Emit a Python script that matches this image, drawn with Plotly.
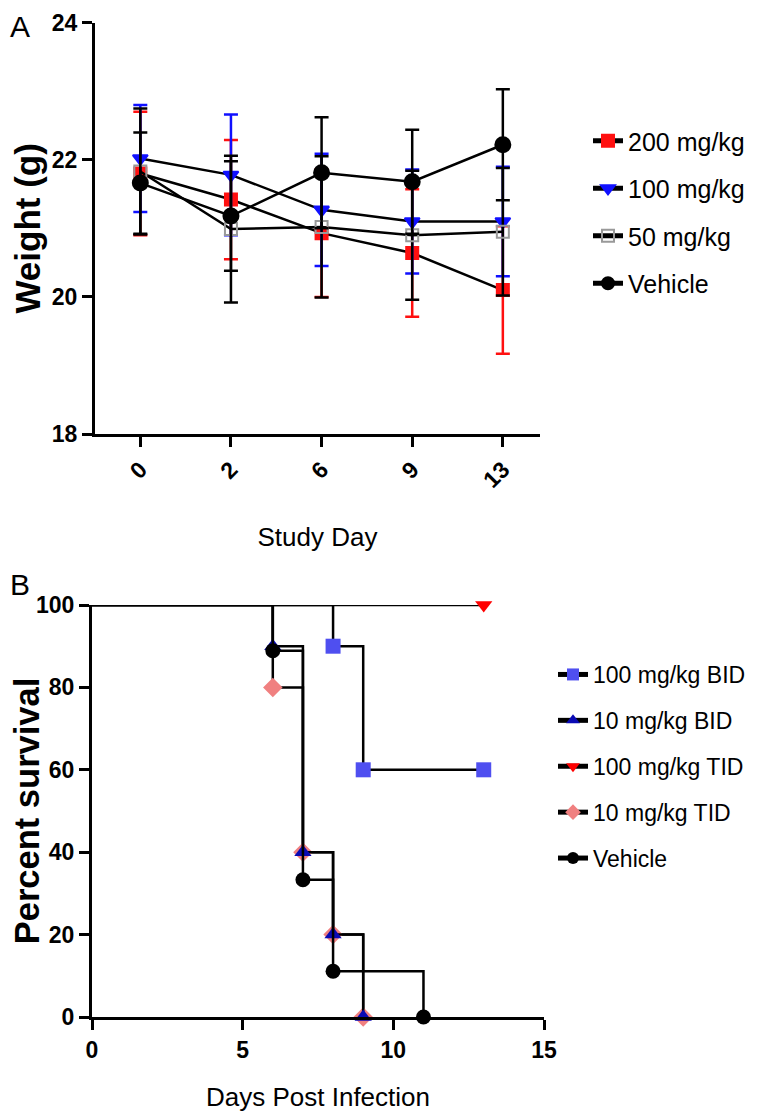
import plotly.graph_objects as go

# Panel A: body weight by study day (mean +/- error)
study_days = ["0", "2", "6", "9", "13"]
w_200 = [21.80, 21.42, 20.93, 20.64, 20.10]
e_200 = [0.90, 0.87, 0.93, 0.93, 0.93]
w_100 = [22.02, 21.78, 21.27, 21.10, 21.10]
e_100 = [0.78, 0.88, 0.82, 0.76, 0.80]
w_50 = [21.83, 20.99, 21.02, 20.90, 20.95]
e_50 = [0.92, 1.07, 1.03, 0.94, 0.93]
w_veh = [21.66, 21.18, 21.81, 21.68, 22.22]
e_veh = [0.74, 0.80, 0.81, 0.76, 0.81]

# Panel B: Kaplan-Meier survival
bid100_days = [0, 8, 9, 13]
bid100_surv = [100, 90, 60, 60]
bid10_days = [0, 6, 7, 8, 9]
bid10_surv = [100, 90, 40, 20, 0]
tid100_days = [0, 13]
tid100_surv = [100, 100]
tid10_days = [0, 6, 7, 8, 9]
tid10_surv = [100, 80, 40, 20, 0]
veh_days = [0, 6, 7, 8, 11]
veh_surv = [100, 88.9, 33.3, 11.1, 0]

FONT = "Liberation Sans, Arial, sans-serif"
TICKFONT = dict(family="Liberation Sans Narrow, Arial Narrow, Liberation Sans, Arial",
                size=23, color="black", weight="bold")
W, H = 760, 1120

fig = go.Figure()

def weight_trace(name, y, err, color, symbol, size, ecolor):
    return go.Scatter(
        x=study_days, y=y, name=name, mode="lines+markers",
        xaxis="x", yaxis="y", legend="legend", legendgroup=name,
        line=dict(color="black", width=2.5),
        marker=dict(symbol=symbol, size=size, color=color, opacity=1,
                    line=dict(color=color, width=2)),
        error_y=dict(type="data", array=err, color=ecolor, thickness=2.5, width=7),
        cliponaxis=False,
    )

fig.add_trace(weight_trace("200 mg/kg", w_200, e_200, "#ff1010", "square", 12, "#ff1010"))
fig.add_trace(weight_trace("100 mg/kg", w_100, e_100, "#1010ff", "triangle-down", 13, "#1010ff"))
fig.add_trace(weight_trace("50 mg/kg", w_50, e_50, "#999999", "square-open", 12, "black"))
fig.add_trace(weight_trace("Vehicle", w_veh, e_veh, "black", "circle", 15, "black"))

def surv_trace(name, x, y, color, symbol, rank):
    return go.Scatter(
        x=x, y=y, name=name, mode="lines+markers",
        xaxis="x2", yaxis="y2", legend="legend2", legendgroup=name, legendrank=rank,
        line=dict(color="black", width=2.5, shape="hv"),
        marker=dict(symbol=symbol, color=color, opacity=1, line=dict(width=0),
                    size=[0] + [15] * (len(x) - 1)),
        cliponaxis=False,
    )

# drawing order chosen so the overlaps look like the original
fig.add_trace(surv_trace("10 mg/kg TID", tid10_days, tid10_surv, "#f08080", "diamond", 4))
fig.add_trace(surv_trace("10 mg/kg BID", bid10_days, bid10_surv, "#0a0ab4", "triangle-up", 2))
fig.add_trace(surv_trace("100 mg/kg BID", bid100_days, bid100_surv, "#4f4ff0", "square", 1))
fig.add_trace(surv_trace("100 mg/kg TID", tid100_days, tid100_surv, "#ff0000", "triangle-down", 3))
fig.add_trace(surv_trace("Vehicle", veh_days, veh_surv, "black", "circle", 5))

axis_common = dict(showline=True, linecolor="black", linewidth=3, ticks="outside",
                   ticklen=10, tickwidth=3, tickcolor="black", showgrid=False,
                   zeroline=False, tickfont=TICKFONT, automargin=False)

fig.update_layout(
    width=W, height=H,
    margin=dict(l=0, r=0, t=0, b=0),
    paper_bgcolor="white", plot_bgcolor="white",
    font=dict(family=FONT, color="black"),
    xaxis=dict(domain=[87 / W, 532 / W], anchor="y", type="category",
               range=[-0.5, 4.41], tickangle=-45,
               title=dict(text="Study Day", font=dict(size=26), standoff=36),
               **axis_common),
    yaxis=dict(domain=[1 - 426 / H, 1 - 14.7 / H], anchor="x",
               range=[18, 24], tickvals=[18, 20, 22, 24],
               title=dict(text="Weight (g)", font=dict(size=35, weight="bold"), standoff=3),
               **axis_common),
    xaxis2=dict(domain=[84 / W, 536 / W], anchor="y2", range=[0, 15],
                tickvals=[0, 5, 10, 15],
                title=dict(text="Days Post Infection", font=dict(size=26), standoff=27),
                **axis_common),
    yaxis2=dict(domain=[1 - 1009 / H, 1 - 597 / H], anchor="x2", range=[0, 100],
                tickvals=[0, 20, 40, 60, 80, 100],
                title=dict(text="Percent survival", font=dict(size=34.5, weight="bold"), standoff=6),
                **axis_common),
    legend=dict(x=580 / W, y=1 - 110 / H, xanchor="left", yanchor="top",
                font=dict(size=25), traceorder="grouped", tracegroupgap=12,
                bgcolor="rgba(0,0,0,0)", itemsizing="constant"),
    legend2=dict(x=545 / W, y=1 - 645 / H, xanchor="left", yanchor="top",
                 font=dict(size=23), traceorder="grouped", tracegroupgap=13,
                 bgcolor="rgba(0,0,0,0)", itemsizing="constant"),
    annotations=[
        dict(text="A", x=0, y=1, xref="paper", yref="paper",
             xanchor="left", yanchor="top", showarrow=False, font=dict(size=30)),
        dict(text="B", x=0, y=1 - 577 / H, xref="paper", yref="paper",
             xanchor="left", yanchor="middle", showarrow=False, font=dict(size=30)),
    ],
)

fig.write_html("out.html")
